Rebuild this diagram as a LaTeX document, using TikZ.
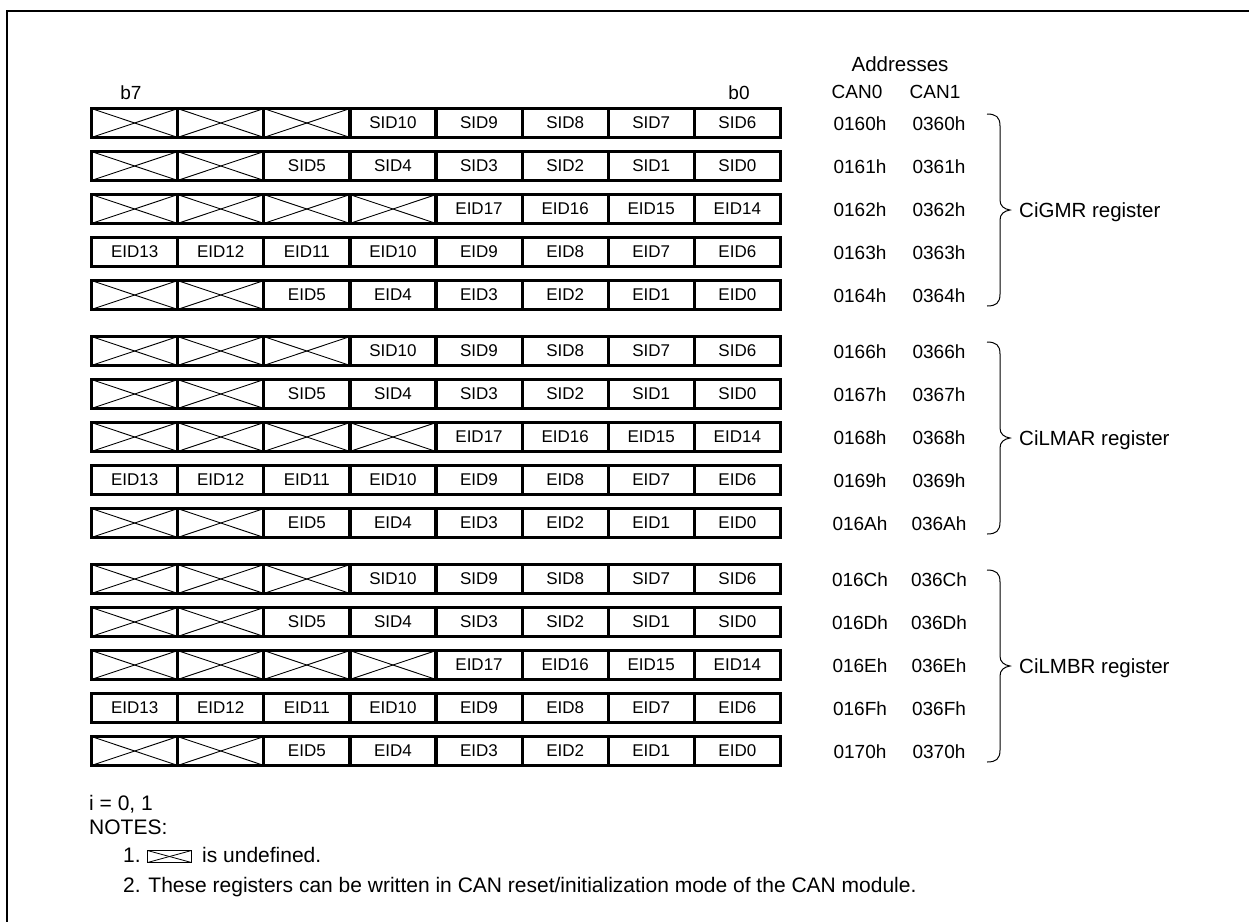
\documentclass[tikz,border=0pt]{standalone}
\usepackage{fontspec}
\setmainfont{Liberation Sans}
\usepackage{etoolbox}
\usetikzlibrary{positioning}

\tikzset{
    bitcell/.style={draw, rectangle, line width=3.2pt, minimum width=86.1pt, minimum height=28.8pt,
        inner sep=0pt, outer sep=0pt, font=\fontsize{17}{19}\selectfont},
    undefx/.style={line width=0.9pt},
    addrtext/.style={anchor=base, inner sep=0pt, font=\fontsize{19}{22}\selectfont},
    regtext/.style={anchor=base west, inner sep=0pt, font=\fontsize{20.5}{24}\selectfont},
    notetext/.style={anchor=base west, inner sep=0pt, font=\fontsize{21}{24}\selectfont},
    regbrace/.style={line width=1pt},
}

\begin{document}
\begin{tikzpicture}[x=1pt, y=-1pt]
    \useasboundingbox (0,0) rectangle (1249,922);
    % frame, cut by the page at right and bottom
    \draw[line width=2.5pt] (1249,11) -- (7,11) -- (7,922);

    % column heads
    \node (b7) [addrtext] at (131,99) {b7};
    \node (b0) [addrtext] at (739,99) {b0};
    \node (addr) [addrtext, font=\fontsize{20.5}{24}\selectfont] at (900,71) {Addresses};
    \node (can0) [addrtext] at (857,98) {CAN0};
    \node (can1) [addrtext] at (935,98) {CAN1};

    % registers: 3 groups of 5 bytes
    \foreach \bits [count=\r from 0] in {
        {x,x,x,SID10,SID9,SID8,SID7,SID6},
        {x,x,SID5,SID4,SID3,SID2,SID1,SID0},
        {x,x,x,x,EID17,EID16,EID15,EID14},
        {EID13,EID12,EID11,EID10,EID9,EID8,EID7,EID6},
        {x,x,EID5,EID4,EID3,EID2,EID1,EID0}} {
        \foreach \g in {0,1,2} {
            \foreach \b [count=\i from 0] in \bits {
                \ifdefstring{\b}{x}{
                    \node (c\g\r\i) [bitcell] at ({134.65+86.1*\i},{123+228*\g+43*\r}) {};
                    \draw[undefx] (c\g\r\i.north west) -- (c\g\r\i.south east);
                    \draw[undefx] (c\g\r\i.south west) -- (c\g\r\i.north east);
                }{
                    \node (c\g\r\i) [bitcell] at ({134.65+86.1*\i},{123+228*\g+43*\r}) {\b};
                }
            }
        }
    }

    % addresses
    \foreach \lo/\hi [count=\k from 0] in {
        0160h/0360h, 0161h/0361h, 0162h/0362h, 0163h/0363h, 0164h/0364h,
        0166h/0366h, 0167h/0367h, 0168h/0368h, 0169h/0369h, 016Ah/036Ah,
        016Ch/036Ch, 016Dh/036Dh, 016Eh/036Eh, 016Fh/036Fh, 0170h/0370h} {
        \pgfmathtruncatemacro{\g}{int(\k/5)}
        \pgfmathtruncatemacro{\r}{\k-5*\g}
        \node (lo\k) [addrtext] at (860,{130+228*\g+43*\r}) {\lo};
        \node (hi\k) [addrtext] at (939,{130+228*\g+43*\r}) {\hi};
    }

    % braces and register names
    \foreach \regname [count=\g from 0] in {CiGMR, CiLMAR, CiLMBR} {
        \pgfmathsetmacro{\t}{114+228*\g}
        \pgfmathsetmacro{\m}{210+228*\g}
        \pgfmathsetmacro{\e}{306+228*\g}
        \draw[regbrace] (987,\t) .. controls (996,\t) and (1000,{\t+3}) .. (1000,{\t+12})
            -- (1000,{\m-10}) .. controls (1000,{\m-4}) and (1004,{\m-1}) .. (1010,\m)
            .. controls (1004,{\m+1}) and (1000,{\m+4}) .. (1000,{\m+10})
            -- (1000,{\e-12}) .. controls (1000,{\e-3}) and (996,\e) .. (987,\e);
        \node (reg\g) [regtext] at (1019,{\m+7}) {\regname\ register};
    }

    % notes
    \node (idx) [notetext] at (89,810) {i = 0, 1};
    \node (notes) [notetext] at (89,834) {NOTES:};
    \node (note1) [notetext] at (123,862) {1.};
    \node (icon) [draw, rectangle, line width=1.5pt, minimum width=44pt, minimum height=12pt,
        inner sep=0pt, outer sep=0pt] at (169.5,856.5) {};
    \draw[line width=0.8pt] (icon.north west) -- (icon.south east);
    \draw[line width=0.8pt] (icon.south west) -- (icon.north east);
    \node (undefd) [notetext] at (202,862) {is undefined.};
    \node (note2) [notetext] at (123,892) {2. These registers can be written in CAN reset/initialization mode of the CAN module.};
\end{tikzpicture}
\end{document}
